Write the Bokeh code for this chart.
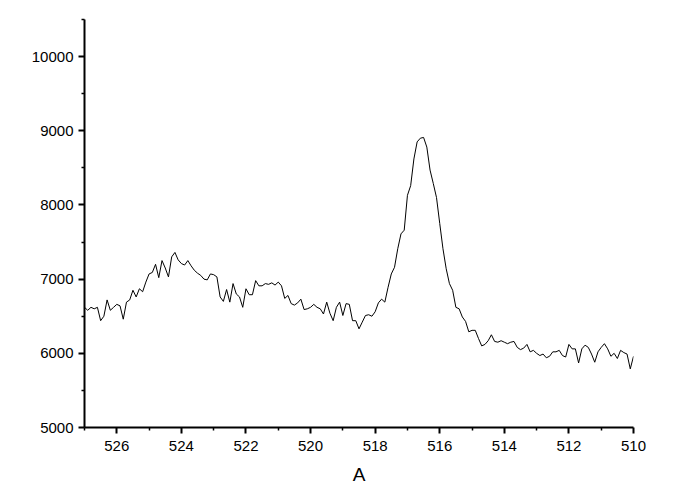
from bokeh.plotting import figure
from bokeh.models import Range1d, FixedTicker, ColumnDataSource
from bokeh.embed import file_html
from bokeh.resources import INLINE
import numpy as np

# Binding energy grid (eV), 0.1 eV step from 527.0 down to 510.0
energy_start = 527.0
energy_step = -0.1

# Intensity, one value per 0.1 eV from 527.0 to 510.0
intensity = [
    6620, 6580, 6620, 6600, 6620, 6440, 6500, 6720, 6580, 6620,   # 527.0 - 526.1
    6660, 6640, 6460, 6690, 6720, 6850, 6760, 6870, 6830, 6960,   # 526.0 - 525.1
    7070, 7090, 7200, 7020, 7250, 7150, 7030, 7300, 7360, 7260,   # 525.0 - 524.1
    7210, 7190, 7250, 7180, 7120, 7080, 7050, 7000, 6990, 7070,   # 524.0 - 523.1
    7060, 7030, 6760, 6700, 6860, 6690, 6940, 6800, 6760, 6620,   # 523.0 - 522.1
    6870, 6790, 6790, 6980, 6910, 6910, 6940, 6930, 6950, 6920,   # 522.0 - 521.1
    6960, 6910, 6740, 6780, 6670, 6650, 6680, 6730, 6590, 6600,   # 521.0 - 520.1
    6620, 6660, 6620, 6600, 6530, 6690, 6540, 6440, 6620, 6690,   # 520.0 - 519.1
    6510, 6670, 6660, 6440, 6440, 6330, 6420, 6510, 6520, 6500,   # 519.0 - 518.1
    6560, 6680, 6730, 6690, 6890, 7070, 7160, 7410, 7610, 7660,   # 518.0 - 517.1
    8130, 8260, 8620, 8850, 8900, 8910, 8780, 8470, 8290, 8100,   # 517.0 - 516.1
    7750, 7410, 7140, 6940, 6850, 6620, 6600, 6490, 6430, 6290,   # 516.0 - 515.1
    6310, 6310, 6200, 6100, 6120, 6170, 6250, 6160, 6150, 6170,   # 515.0 - 514.1
    6150, 6130, 6150, 6160, 6080, 6050, 6070, 6120, 6020, 6040,   # 514.0 - 513.1
    6000, 5970, 5990, 5940, 5960, 6020, 6020, 6040, 5970, 5950,   # 513.0 - 512.1
    6120, 6060, 6060, 5870, 6060, 6110, 6080, 5990, 5880, 6020,   # 512.0 - 511.1
    6080, 6130, 6060, 5960, 6000, 5930, 6040, 6010, 5990, 5790,   # 511.0 - 510.1
    5960,                                                         # 510.0
]

x_major_ticks = [526, 524, 522, 520, 518, 516, 514, 512, 510]
x_minor_ticks = [527, 525, 523, 521, 519, 517, 515, 513, 511]
y_major_ticks = [5000, 6000, 7000, 8000, 9000, 10000]
y_minor_ticks = [5500, 6500, 7500, 8500, 9500, 10500]
x_label = "A"

energy = np.round(energy_start + energy_step * np.arange(len(intensity)), 2)
src = ColumnDataSource(dict(x=energy, y=intensity))

p = figure(width=680, height=487, output_backend="svg", toolbar_location=None,
           x_range=Range1d(527, 510), y_range=Range1d(5000, 10500),
           min_border_left=84, min_border_right=47, min_border_top=19,
           min_border_bottom=60)
p.line("x", "y", source=src, line_color="black", line_width=1)

p.xgrid.visible = False
p.ygrid.visible = False
p.outline_line_color = None
p.background_fill_color = "white"
p.border_fill_color = "white"

p.xaxis.ticker = FixedTicker(ticks=x_major_ticks, minor_ticks=x_minor_ticks)
p.yaxis.ticker = FixedTicker(ticks=y_major_ticks, minor_ticks=y_minor_ticks)

for ax in (p.xaxis[0], p.yaxis[0]):
    ax.axis_line_width = 2
    ax.axis_line_color = "black"
    ax.major_tick_in = 0
    ax.major_tick_out = 6
    ax.minor_tick_in = 0
    ax.minor_tick_out = 3
    ax.major_tick_line_width = 2
    ax.minor_tick_line_width = 1.5
    ax.major_tick_line_color = "black"
    ax.minor_tick_line_color = "black"
    ax.major_label_text_font = "Liberation Sans"
    ax.major_label_text_font_size = "15px"
    ax.major_label_text_color = "black"

p.xaxis.major_label_standoff = 7
p.yaxis.major_label_standoff = 5
p.xaxis.axis_label = x_label
p.xaxis.axis_label_text_font = "Liberation Sans"
p.xaxis.axis_label_text_font_size = "19px"
p.xaxis.axis_label_text_font_style = "normal"
p.xaxis.axis_label_text_color = "black"
p.xaxis.axis_label_standoff = 10

open("out.html", "w").write(file_html(p, INLINE))
